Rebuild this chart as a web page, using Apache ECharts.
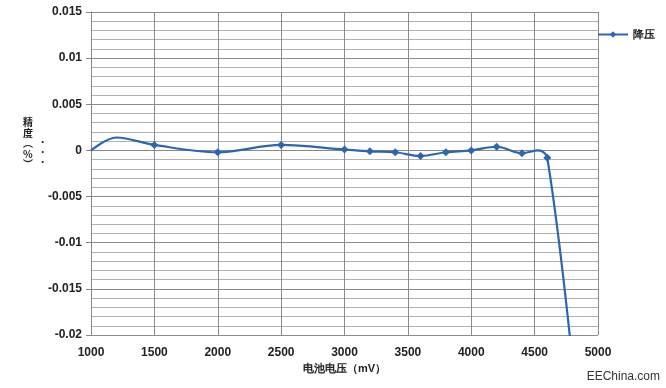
<!DOCTYPE html>
<html><head><meta charset="utf-8">
<script src="https://cdn.jsdelivr.net/npm/echarts@6/dist/echarts.min.js"></script>
<style>html,body{margin:0;padding:0;background:#fff}#c{width:666px;height:388px}</style>
</head><body><div id="c"></div>
<script>
// Data
const voltages = [1000, 1200, 1500, 2000, 2500, 3000, 3200, 3400, 3600, 3800, 4000, 4200, 4400, 4530, 4600, 4800];
const precision = [0, 0.0014, 0.0006, -0.0002, 0.0006, 0.0001, -0.0001, -0.0002, -0.0006, -0.0002, 0, 0.0004, -0.0003, 0, -0.0008, -0.023];
const showMarker = [false, false, true, true, true, true, true, true, true, true, true, true, true, false, true, false];
const seriesName = '降压';
const xTitle = '电池电压（mV）';
const yTitle = '精\n度\n︵\n%\n︶';

const chart = echarts.init(document.getElementById('c'));
const font = '"Liberation Sans", Arial, sans-serif';
const cjk = '"Noto Sans CJK SC", sans-serif';
const blue = '#2c66b0';
const data = voltages.map((v, i) => showMarker[i] ? [v, precision[i]] : {value: [v, precision[i]], symbol: 'none'});
chart.setOption({
  animation: false,
  grid: {left: 91, right: 68, top: 12, bottom: 53},
  legend: {
    right: 6, top: 24, itemWidth: 30, itemHeight: 8,
    textStyle: {fontFamily: font, fontSize: 11, fontWeight: 'bold', color: '#222'},
    data: [seriesName]
  },
  xAxis: {
    type: 'value', min: 1000, max: 5000, interval: 500,
    name: xTitle, nameLocation: 'middle', nameGap: 28,
    nameTextStyle: {fontFamily: font, fontSize: 11, fontWeight: 'bold', color: '#222'},
    axisLine: {show: true, lineStyle: {color: '#888'}},
    axisTick: {show: false},
    axisLabel: {fontFamily: font, fontSize: 12, fontWeight: 'bold', color: '#222', margin: 12,
      formatter: v => String(v)},
    splitLine: {show: true, lineStyle: {color: '#8c8c8c', width: 1}}
  },
  yAxis: {
    type: 'value', min: -0.02, max: 0.015, interval: 0.005,
    axisLine: {show: true, lineStyle: {color: '#888'}},
    axisTick: {show: true, length: 5, lineStyle: {color: '#888'}},
    axisLabel: {fontFamily: font, fontSize: 12, fontWeight: 'bold', color: '#222', margin: 9,
      formatter: v => String(parseFloat(v.toFixed(4)))},
    splitLine: {show: true, lineStyle: {color: '#8c8c8c', width: 1}},
    minorTick: {show: false, splitNumber: 5},
    minorSplitLine: {show: true, lineStyle: {color: '#b0b0b0', width: 1}}
  },
  series: [{
    name: seriesName, type: 'line', data: data, smooth: 0.35,
    symbol: 'diamond', symbolSize: 8, showSymbol: true,
    lineStyle: {color: blue, width: 2.2}, itemStyle: {color: blue},
    clip: true
  }],
  graphic: [
    {type: 'text', left: 23, top: 117, style: {text: yTitle, fontFamily: cjk, fontSize: 10, fontWeight: 'bold', lineHeight: 10.5, fill: '#222', align: 'left'}},
    {type: 'text', left: 41, top: 134, style: {text: '.\n.\n.', fontFamily: font, fontSize: 12, fontWeight: 'bold', lineHeight: 10, fill: '#222'}},
    {type: 'text', right: 6, bottom: 5, style: {text: 'EEChina.com', fontFamily: font, fontSize: 12, fill: '#333'}}
  ]
});
</script></body></html>
